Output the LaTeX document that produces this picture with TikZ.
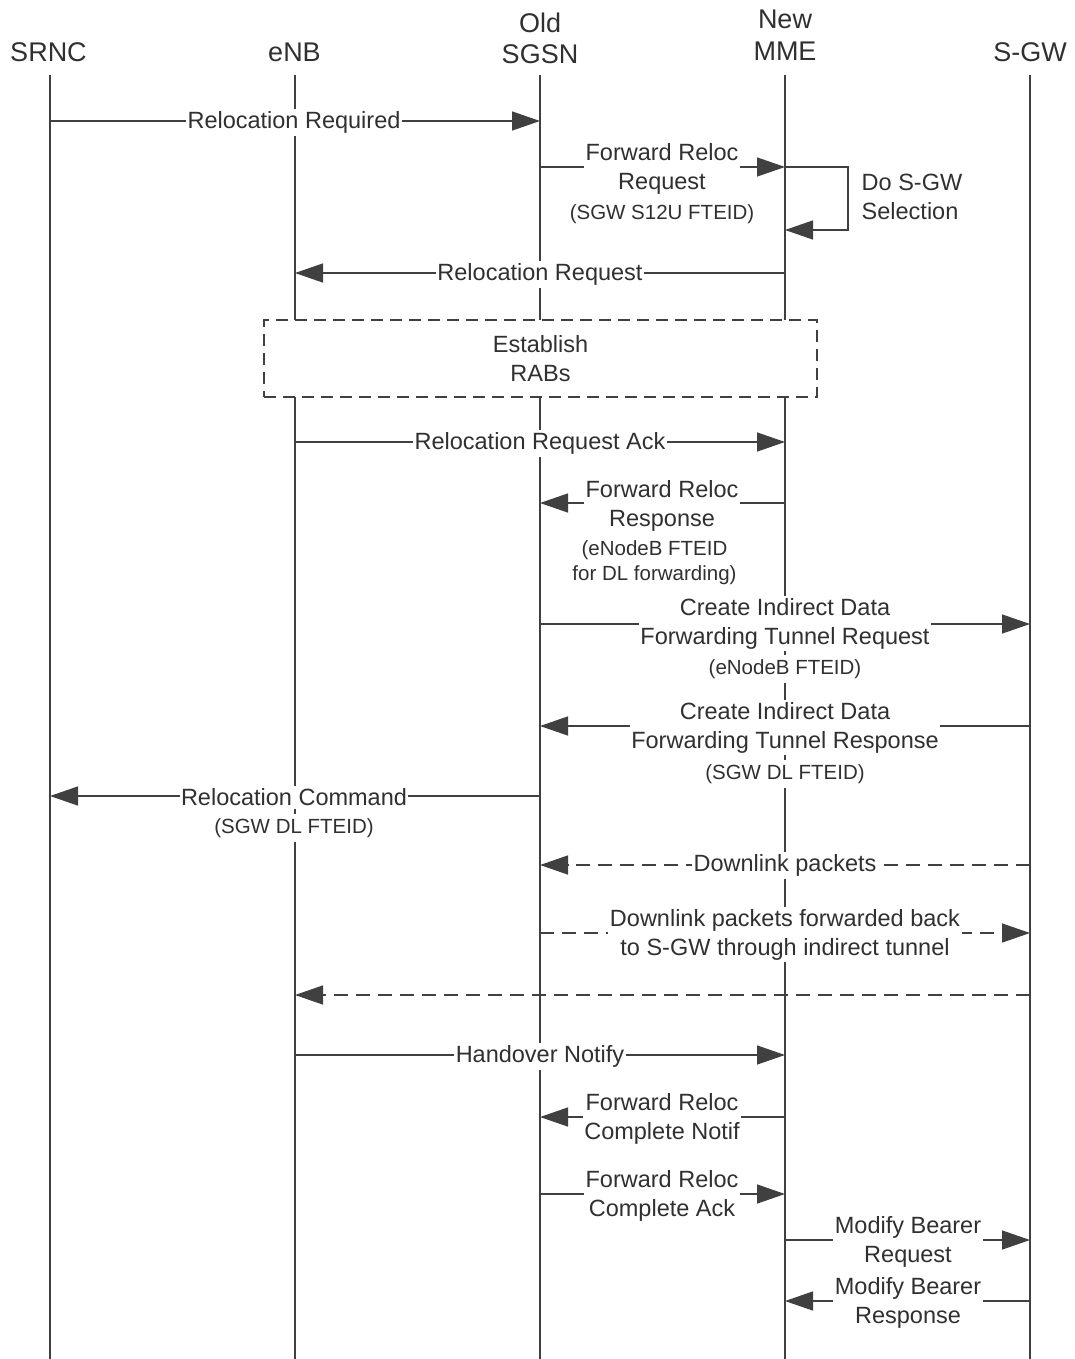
\documentclass[tikz,border=0pt]{standalone}
\usepackage{fontspec}
\setmainfont{Liberation Sans}
\usetikzlibrary{arrows.meta}
\definecolor{linec}{HTML}{404040}
\definecolor{textc}{HTML}{303030}
\tikzset{
  life/.style={draw=linec, line width=1.4pt},
  msg/.style={draw=linec, line width=1.4pt, -{Triangle[length=28pt,width=19pt]}, fill=none},
  dmsg/.style={msg, dash pattern=on 14pt off 8pt},
  hdr/.style={text=textc, font=\fontsize{27}{32}\selectfont, align=center, inner sep=0pt},
  lbl/.style={text=textc, font=\fontsize{23.5}{29}\selectfont, align=center, fill=white, inner xsep=1.5pt, inner ysep=2.5pt, yshift=-1.5pt},
  par/.style={text=textc, font=\fontsize{20.5}{25}\selectfont, align=center, fill=white, inner xsep=1.5pt, inner ysep=4pt, yshift=-2pt},
  rabbox/.style={draw=linec, line width=1.4pt, dash pattern=on 12pt off 7pt, fill=white, minimum width=553pt, minimum height=77pt, text=textc, font=\fontsize{23.5}{29}\selectfont, align=center},
}
\begin{document}
\begin{tikzpicture}[x=1pt,y=-1pt]
\useasboundingbox (0,0) rectangle (1075,1359);
% headers
\node[hdr, anchor=base] (srnc) at (48.5,62) {SRNC};
\node[hdr, anchor=base] (enb) at (294.5,62) {eNB};
\node[hdr, anchor=base] (sgsnh) at (540,33) {Old};
\node[hdr, anchor=base] (sgsn) at (540,64) {SGSN};
\node[hdr, anchor=base] (mmeh) at (785,29) {New};
\node[hdr, anchor=base] (mme) at (785,61) {MME};
\node[hdr, anchor=base] (sgw) at (1030,62) {S-GW};
% lifelines
\coordinate (srnc-top) at (50,75);   \coordinate (srnc-bot) at (50,1359);
\coordinate (enb-top) at (295,75);   \coordinate (enb-bot) at (295,1359);
\coordinate (sgsn-top) at (540,75);  \coordinate (sgsn-bot) at (540,1359);
\coordinate (mme-top) at (785,75);   \coordinate (mme-bot) at (785,1359);
\coordinate (sgw-top) at (1030,75);  \coordinate (sgw-bot) at (1030,1359);
\draw[life] (srnc-top) -- (srnc-bot);
\draw[life] (enb-top) -- (enb-bot);
\draw[life] (sgsn-top) -- (sgsn-bot);
\draw[life] (mme-top) -- (mme-bot);
\draw[life] (sgw-top) -- (sgw-bot);
% message rows
\coordinate (m1) at (0,121);
\coordinate (m2) at (0,167);
\coordinate (selfc) at (848,230);
\coordinate (m3) at (0,273);
\coordinate (m4) at (0,442);
\coordinate (m5) at (0,503);
\coordinate (m6) at (0,624);
\coordinate (m7) at (0,726);
\coordinate (m8) at (0,796);
\coordinate (m9) at (0,865);
\coordinate (m10) at (0,933);
\coordinate (m11) at (0,995);
\coordinate (m12) at (0,1055);
\coordinate (m13) at (0,1117);
\coordinate (m14) at (0,1194);
\coordinate (m15) at (0,1240);
\coordinate (m16) at (0,1301);
% dashed box
\node[rabbox] (rabs) at (540.5,358.5) {Establish\\RABs};
% arrows
\draw[msg] (srnc-top |- m1) -- (sgsn-top |- m1);
\draw[msg] (sgsn-top |- m2) -- (mme-top |- m2);
\draw[msg] (mme-top |- m2) -| (selfc) -- (mme-top |- selfc);
\draw[msg] (mme-top |- m3) -- (enb-top |- m3);
\draw[msg] (enb-top |- m4) -- (mme-top |- m4);
\draw[msg] (mme-top |- m5) -- (sgsn-top |- m5);
\draw[msg] (sgsn-top |- m6) -- (sgw-top |- m6);
\draw[msg] (sgw-top |- m7) -- (sgsn-top |- m7);
\draw[msg] (sgsn-top |- m8) -- (srnc-top |- m8);
\draw[dmsg] (sgw-top |- m9) -- (sgsn-top |- m9);
\draw[dmsg] (sgsn-top |- m10) -- (sgw-top |- m10);
\draw[dmsg] (sgw-top |- m11) -- (enb-top |- m11);
\draw[msg] (enb-top |- m12) -- (mme-top |- m12);
\draw[msg] (mme-top |- m13) -- (sgsn-top |- m13);
\draw[msg] (sgsn-top |- m14) -- (mme-top |- m14);
\draw[msg] (mme-top |- m15) -- (sgw-top |- m15);
\draw[msg] (sgw-top |- m16) -- (mme-top |- m16);
% parameter labels
\node[par] (p2) at (662,212) {(SGW S12U FTEID)};
\node[par] (p5) at (654.5,560.5) {(eNodeB FTEID\\for DL forwarding)};
\node[par] (p6) at (785,667) {(eNodeB FTEID)};
\node[par] (p7) at (785,772) {(SGW DL FTEID)};
\node[par] (p8) at (294,826) {(SGW DL FTEID)};
% message labels
\node[lbl] (l1) at (294,121) {Relocation Required};
\node[lbl] (l2) at (662,167) {Forward Reloc\\Request};
\node[lbl, anchor=west, align=left, fill=none] (l2s) at (860,195.5) {Do S-GW\\Selection};
\node[lbl] (l3) at (540,273) {Relocation Request};
\node[lbl] (l4) at (540,442) {Relocation Request Ack};
\node[lbl] (l5) at (662,504) {Forward Reloc\\Response};
\node[lbl] (l6) at (785,622) {Create Indirect Data\\Forwarding Tunnel Request};
\node[lbl] (l7) at (785,726) {Create Indirect Data\\Forwarding Tunnel Response};
\node[lbl] (l8) at (294,796) {Relocation Command};
\node[lbl] (l9) at (785,864) {Downlink packets};
\node[lbl] (l10) at (785,933) {Downlink packets forwarded back\\to S-GW through indirect tunnel};
\node[lbl] (l12) at (540,1055) {Handover Notify};
\node[lbl] (l13) at (662,1117) {Forward Reloc\\Complete Notif};
\node[lbl] (l14) at (662,1194) {Forward Reloc\\Complete Ack};
\node[lbl] (l15) at (908,1240) {Modify Bearer\\Request};
\node[lbl] (l16) at (908,1301) {Modify Bearer\\Response};
\end{tikzpicture}
\end{document}
